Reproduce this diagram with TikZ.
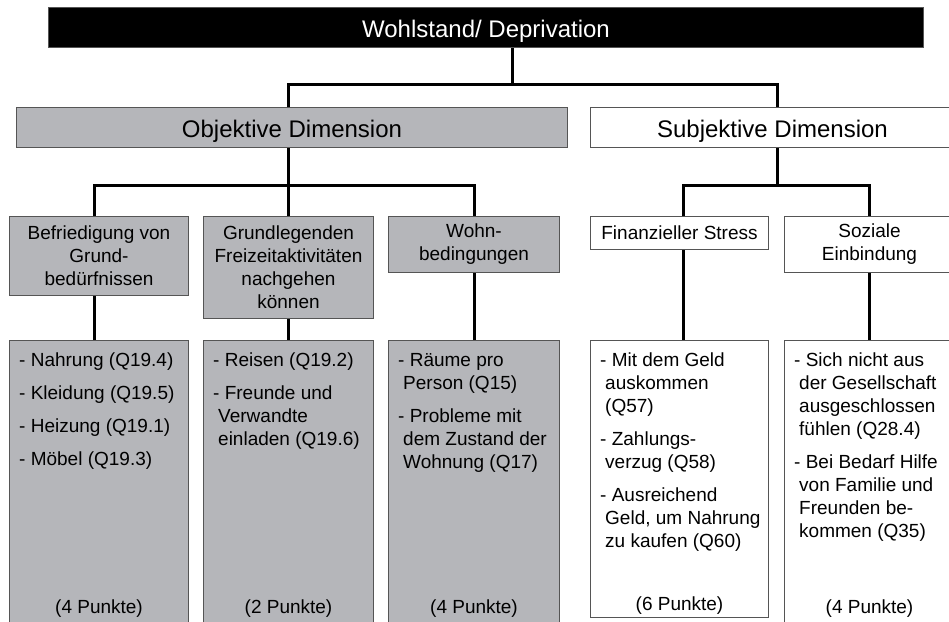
\documentclass[tikz,border=0pt]{standalone}
\usepackage{fontspec}
\setmainfont{Liberation Sans}
\usetikzlibrary{positioning}
\definecolor{boxgray}{HTML}{B5B6BA}
\definecolor{edgegray}{HTML}{555555}
\newcommand{\wrapind}{\hspace*{5pt}}

\begin{document}
\begin{tikzpicture}[x=1pt, y=-1pt,
    box/.style={draw=edgegray, line width=1pt, anchor=north west, inner sep=0pt, align=center, font=\fontsize{19}{23}\selectfont},
    objbox/.style={box, fill=boxgray},
    subbox/.style={box, fill=white},
    big/.style={font=\fontsize{24}{29}\selectfont, text height=19pt, text depth=0pt},
    listtext/.style={inner sep=0pt, align=left, font=\fontsize{19}{23}\selectfont},
    conn/.style={line width=3pt}]
    \useasboundingbox (0,0) rectangle (949,621);
    \clip (0,0) rectangle (949,621);
    % Ebene 0 und 1
    \node[box, big, fill=black, text=white, minimum width=875pt, minimum height=40pt] (top) at (48,7) {Wohlstand/ Deprivation};
    \node[objbox, big, minimum width=551pt, minimum height=40pt] (obj) at (16,107) {Objektive Dimension};
    \node[subbox, big, minimum width=364pt, minimum height=40pt] (subj) at (590,107) {Subjektive Dimension};
    % Ebene 2
    \node[objbox, minimum width=179pt, minimum height=79pt] (grund) at (9,216) {Befriedigung von\\Grund-\\bedürfnissen};
    \node[objbox, minimum width=170pt, minimum height=102pt] (frei) at (203,216) {Grundlegenden\\Freizeitaktivitäten\\nachgehen\\können};
    \node[objbox, minimum width=171pt, minimum height=56pt] (wohn) at (388,216) {Wohn-\\bedingungen};
    \node[subbox, minimum width=178pt, minimum height=33pt] (stress) at (590,216) {Finanzieller Stress};
    \node[subbox, minimum width=170pt, minimum height=56pt] (sozial) at (784,216) {Soziale\\Einbindung};
    % Indikatoren
    \node[objbox, minimum width=179pt, minimum height=300pt] (lgrund) at (9,340) {};
    \node[objbox, minimum width=170pt, minimum height=300pt] (lfrei) at (203,340) {};
    \node[objbox, minimum width=171pt, minimum height=300pt] (lwohn) at (388,340) {};
    \node[subbox, minimum width=178pt, minimum height=277pt] (lstress) at (590,340) {};
    \node[subbox, minimum width=170pt, minimum height=300pt] (lsozial) at (784,340) {};
    \node[listtext, below right=13pt and 10pt of lgrund.north west] (tgrund) {- Nahrung (Q19.4)\\[10pt]- Kleidung (Q19.5)\\[10pt]- Heizung (Q19.1)\\[10pt]- Möbel (Q19.3)};
    \node[listtext, below right=13pt and 10pt of lfrei.north west] (tfrei) {- Reisen (Q19.2)\\[10pt]- Freunde und\\\wrapind Verwandte\\\wrapind einladen (Q19.6)};
    \node[listtext, below right=13pt and 10pt of lwohn.north west] (twohn) {- Räume pro\\\wrapind Person (Q15)\\[10pt]- Probleme mit\\\wrapind dem Zustand der\\\wrapind Wohnung (Q17)};
    \node[listtext, below right=13pt and 10pt of lstress.north west] (tstress) {- Mit dem Geld\\\wrapind auskommen\\\wrapind (Q57)\\[10pt]- Zahlungs-\\\wrapind verzug (Q58)\\[10pt]- Ausreichend\\\wrapind Geld, um Nahrung\\\wrapind zu kaufen (Q60)};
    \node[listtext, below right=13pt and 10pt of lsozial.north west] (tsozial) {- Sich nicht aus\\\wrapind der Gesellschaft\\\wrapind ausgeschlossen\\\wrapind fühlen (Q28.4)\\[10pt]- Bei Bedarf Hilfe\\\wrapind von Familie und\\\wrapind Freunden be-\\\wrapind kommen (Q35)};
    \node[listtext, above=23pt of lgrund.south] (pgrund) {(4 Punkte)};
    \node[listtext, above=23pt of lfrei.south] (pfrei) {(2 Punkte)};
    \node[listtext, above=23pt of lwohn.south] (pwohn) {(4 Punkte)};
    \node[listtext, above=3pt of lstress.south] (pstress) {(6 Punkte)};
    \node[listtext, above=23pt of lsozial.south] (psozial) {(4 Punkte)};
    % Verbindungen
    \coordinate (j0) at (512,84);
    \coordinate (j1) at (777,185);
    \draw[conn] (top.south -| j0) -- (j0);
    \draw[conn] (obj.north -| frei.north) |- (j0) -| (subj.north -| j1);
    \draw[conn] (obj.south -| frei.north) -- (frei.north);
    \draw[conn] ([xshift=-4.5pt]grund.north) -- ++(0,-31) -| (wohn.north);
    \draw[conn] (subj.south -| j1) -- (j1);
    \draw[conn] ([xshift=4pt]stress.north) -- ++(0,-31) -| (sozial.north);
    \foreach \a/\b/\s in {grund/lgrund/-4.5, frei/lfrei/0, wohn/lwohn/0, stress/lstress/4, sozial/lsozial/0}
        \draw[conn] ([xshift=\s pt]\a.south) -- ([xshift=\s pt]\b.north);
\end{tikzpicture}
\end{document}
